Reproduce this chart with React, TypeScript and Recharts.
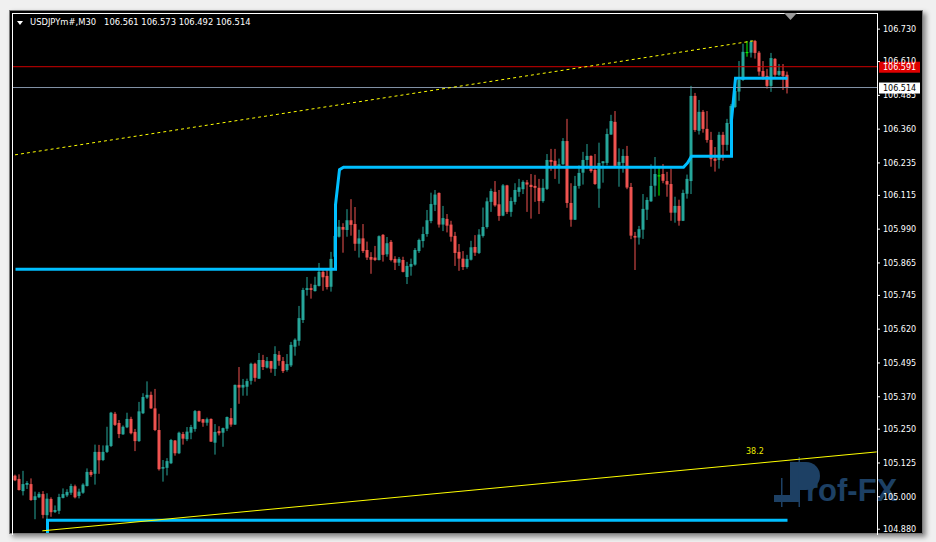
import React from "react";
import { ComposedChart, Bar, Line, XAxis, YAxis, ReferenceLine } from "recharts";

// USDJPYm#, M30 - bars (index 0 = leftmost bar)
const opens = [
  105.078, 105.066, 105.021, 105.044, 105.047, 104.988, 104.998, 105.010, 104.932, 104.992,
  104.944, 104.948, 104.996, 105.005, 105.015, 105.039, 105.003, 105.015, 105.040, 105.092,
  105.085, 105.166, 105.136, 105.166, 105.188, 105.307, 105.273, 105.231, 105.257, 105.288,
  105.240, 105.206, 105.309, 105.367, 105.377, 105.327, 105.247, 105.104, 105.107, 105.124,
  105.208, 105.161, 105.232, 105.213, 105.237, 105.251, 105.317, 105.287, 105.274, 105.288,
  105.200, 105.243, 105.237, 105.252, 105.291, 105.267, 105.414, 105.404, 105.407, 105.429,
  105.492, 105.437, 105.506, 105.478, 105.502, 105.473, 105.525, 105.502, 105.469, 105.486,
  105.555, 105.577, 105.654, 105.765, 105.772, 105.761, 105.780, 105.832, 105.817, 105.777,
  105.888, 105.962, 105.998, 105.987, 106.023, 106.009, 105.936, 105.956, 105.913, 105.887,
  105.885, 105.876, 105.969, 105.897, 105.943, 105.880, 105.866, 105.876, 105.813, 105.851,
  105.859, 105.909, 105.946, 105.972, 106.020, 106.080, 106.124, 106.007, 106.028, 106.007,
  105.965, 105.906, 105.881, 105.850, 105.877, 105.924, 105.902, 105.965, 105.998, 106.091,
  106.128, 106.082, 106.040, 106.152, 106.054, 106.091, 106.128, 106.138, 106.163, 106.154,
  106.150, 106.143, 106.094, 106.139, 106.246, 106.243, 106.216, 106.230, 106.316, 106.087,
  106.025, 106.150, 106.199, 106.246, 106.261, 106.209, 106.140, 106.234, 106.235, 106.340,
  106.387, 106.225, 106.235, 106.261, 106.146, 105.965, 105.959, 105.988, 106.062, 106.093,
  106.151, 106.189, 106.194, 106.168, 106.157, 106.051, 106.076, 106.021, 106.121, 106.168,
  106.483, 106.354, 106.424, 106.361, 106.320, 106.251, 106.246, 106.339, 106.302, 106.379,
  106.442, 106.499, 106.542, 106.645, 106.643, 106.686, 106.643, 106.575, 106.557, 106.520,
  106.620, 106.561, 106.575, 106.561,
];

const highs = [
  105.082, 105.083, 105.096, 105.058, 105.068, 105.019, 105.018, 105.021, 105.013, 104.998,
  104.968, 105.011, 105.031, 105.028, 105.048, 105.045, 105.030, 105.050, 105.105, 105.099,
  105.193, 105.192, 105.190, 105.259, 105.314, 105.314, 105.284, 105.264, 105.311, 105.296,
  105.251, 105.351, 105.383, 105.427, 105.389, 105.399, 105.307, 105.136, 105.143, 105.214,
  105.210, 105.241, 105.240, 105.258, 105.266, 105.321, 105.319, 105.288, 105.293, 105.290,
  105.269, 105.261, 105.256, 105.297, 105.328, 105.415, 105.480, 105.436, 105.437, 105.496,
  105.496, 105.532, 105.525, 105.517, 105.503, 105.557, 105.539, 105.517, 105.528, 105.573,
  105.586, 105.706, 105.773, 105.813, 105.788, 105.814, 105.865, 105.845, 105.844, 105.906,
  105.987, 106.024, 106.012, 106.064, 106.101, 106.072, 105.988, 106.009, 105.944, 105.905,
  105.928, 105.967, 105.972, 105.961, 105.950, 105.890, 105.887, 105.888, 105.869, 105.881,
  105.920, 105.955, 105.999, 106.061, 106.125, 106.135, 106.126, 106.076, 106.046, 106.021,
  105.980, 105.935, 105.909, 105.895, 105.947, 105.968, 105.990, 106.070, 106.107, 106.140,
  106.168, 106.135, 106.157, 106.154, 106.108, 106.160, 106.176, 106.171, 106.172, 106.194,
  106.191, 106.176, 106.176, 106.268, 106.287, 106.287, 106.251, 106.327, 106.398, 106.160,
  106.187, 106.226, 106.276, 106.305, 106.263, 106.268, 106.310, 106.242, 106.362, 106.413,
  106.427, 106.289, 106.286, 106.298, 106.161, 105.980, 106.002, 106.120, 106.108, 106.230,
  106.257, 106.217, 106.231, 106.202, 106.214, 106.110, 106.099, 106.136, 106.192, 106.520,
  106.494, 106.468, 106.431, 106.427, 106.350, 106.294, 106.350, 106.350, 106.398, 106.453,
  106.512, 106.612, 106.676, 106.686, 106.690, 106.690, 106.649, 106.612, 106.583, 106.642,
  106.623, 106.601, 106.601, 106.573,
];

const lows = [
  105.058, 105.023, 105.005, 105.029, 104.985, 104.917, 104.995, 104.920, 104.917, 104.926,
  104.940, 104.936, 104.994, 104.999, 105.007, 104.994, 104.994, 105.011, 105.038, 105.074,
  105.045, 105.085, 105.132, 105.162, 105.184, 105.262, 105.217, 105.229, 105.254, 105.231,
  105.169, 105.203, 105.306, 105.362, 105.325, 105.243, 105.097, 105.056, 105.079, 105.121,
  105.152, 105.158, 105.193, 105.206, 105.213, 105.241, 105.277, 105.259, 105.263, 105.203,
  105.156, 105.227, 105.185, 105.243, 105.259, 105.266, 105.344, 105.374, 105.374, 105.415,
  105.426, 105.436, 105.469, 105.475, 105.459, 105.447, 105.485, 105.458, 105.463, 105.480,
  105.522, 105.559, 105.643, 105.744, 105.733, 105.759, 105.778, 105.762, 105.767, 105.759,
  105.885, 105.959, 105.903, 105.962, 105.966, 105.910, 105.885, 105.902, 105.876, 105.825,
  105.872, 105.874, 105.870, 105.888, 105.871, 105.839, 105.854, 105.830, 105.787, 105.818,
  105.855, 105.902, 105.922, 105.962, 106.012, 106.057, 105.996, 105.983, 105.978, 105.944,
  105.854, 105.836, 105.839, 105.844, 105.874, 105.891, 105.898, 105.959, 105.992, 106.054,
  106.073, 106.021, 106.038, 106.046, 106.036, 106.081, 106.110, 106.120, 106.054, 106.029,
  106.091, 106.046, 106.088, 106.135, 106.206, 106.176, 106.158, 106.228, 106.069, 105.999,
  106.024, 106.140, 106.155, 106.212, 106.199, 106.154, 106.069, 106.162, 106.226, 106.339,
  106.222, 106.147, 106.199, 106.138, 105.953, 105.839, 105.933, 105.954, 106.024, 106.091,
  106.110, 106.114, 106.160, 106.110, 106.021, 106.014, 106.003, 106.020, 106.103, 106.120,
  106.350, 106.340, 106.347, 106.310, 106.221, 106.203, 106.214, 106.243, 106.280, 106.376,
  106.438, 106.465, 106.538, 106.628, 106.625, 106.621, 106.558, 106.543, 106.510, 106.498,
  106.554, 106.557, 106.505, 106.492,
];

const closes = [
  105.061, 105.025, 105.047, 105.051, 104.988, 105.002, 105.011, 104.933, 104.993, 104.943,
  104.951, 104.999, 105.010, 105.018, 105.040, 104.998, 105.019, 105.045, 105.092, 105.081,
  105.166, 105.135, 105.166, 105.190, 105.311, 105.266, 105.232, 105.259, 105.288, 105.235,
  105.206, 105.316, 105.369, 105.377, 105.327, 105.247, 105.102, 105.110, 105.132, 105.210,
  105.161, 105.237, 105.215, 105.241, 105.258, 105.317, 105.279, 105.274, 105.287, 105.204,
  105.240, 105.235, 105.254, 105.295, 105.267, 105.414, 105.404, 105.414, 105.428, 105.492,
  105.440, 105.506, 105.480, 105.502, 105.474, 105.528, 105.503, 105.465, 105.491, 105.562,
  105.581, 105.661, 105.765, 105.772, 105.765, 105.784, 105.832, 105.812, 105.776, 105.880,
  105.965, 105.999, 105.988, 106.023, 106.006, 105.936, 105.956, 105.909, 105.885, 105.877,
  105.876, 105.964, 105.895, 105.938, 105.876, 105.866, 105.880, 105.832, 105.854, 105.861,
  105.913, 105.950, 105.972, 106.023, 106.083, 106.118, 106.007, 106.031, 106.003, 105.962,
  105.902, 105.881, 105.850, 105.880, 105.923, 105.903, 105.970, 105.998, 106.093, 106.131,
  106.078, 106.039, 106.152, 106.054, 106.094, 106.135, 106.145, 106.165, 106.155, 106.146,
  106.143, 106.094, 106.143, 106.246, 106.239, 106.217, 106.230, 106.316, 106.087, 106.025,
  106.150, 106.198, 106.246, 106.261, 106.205, 106.157, 106.235, 106.241, 106.342, 106.390,
  106.224, 106.239, 106.261, 106.144, 105.966, 105.959, 105.990, 106.065, 106.098, 106.150,
  106.194, 106.189, 106.169, 106.155, 106.051, 106.076, 106.021, 106.124, 106.176, 106.483,
  106.357, 106.424, 106.361, 106.320, 106.249, 106.243, 106.339, 106.302, 106.383, 106.446,
  106.501, 106.542, 106.646, 106.645, 106.683, 106.642, 106.573, 106.554, 106.520, 106.623,
  106.561, 106.575, 106.557, 106.514,
];

// price scale labels as printed by the terminal
const yTicks = [
  106.73, 106.61, 106.485, 106.36, 106.235, 106.115, 105.99, 105.865,
  105.745, 105.62, 105.495, 105.37, 105.25, 105.125, 105.0, 104.88,
];

// blue level indicator: bar index -> price
const levelIdx = [0, 80, 80, 81, 82, 167, 168, 169, 179, 179, 180, 193];
const levelVal = [105.842, 105.842, 106.08, 106.21, 106.219, 106.219, 106.235, 106.26, 106.26, 106.394, 106.548, 106.548];

// lower blue level
const lowLevelIdx = [8, 8, 193];
const lowLevelVal = [104.866, 104.913, 104.913];

// dotted yellow trendline and the 38.2 fibo line (bar index, price)
const trendIdx = [-0.125, 185.1];
const trendVal = [106.265, 106.688];
const fiboIdx = [6.7, 215.3];
const fiboVal = [104.874, 105.166];

const askPrice = 106.591;
const bidPrice = 106.514;

const candles = opens.map((o, i) => ({
  i,
  o,
  h: highs[i],
  l: lows[i],
  c: closes[i],
  range: [lows[i], highs[i]],
}));
const levelData = levelIdx.map((i, k) => ({ i, v: levelVal[k] }));
const lowLevelData = lowLevelIdx.map((i, k) => ({ i, v: lowLevelVal[k] }));

const UP = "#26A69A";
const DOWN = "#EF5350";
const DOJI = "#00FF00";
const FONT = "DejaVu Sans";

const Candle = (props: any) => {
  const { x, y, width, height, payload } = props;
  if (!payload || x == null) return null;
  const { o, h, l, c } = payload;
  const top = height >= 0 ? y : y + height;
  const hh = Math.abs(height);
  const cx = x + width / 2;
  const span = h - l;
  const py = (p: number) => (span > 0 ? top + ((h - p) / span) * hh : top);
  const color = c === o ? DOJI : c > o ? UP : DOWN;
  const bTop = py(Math.max(o, c));
  const bBot = py(Math.min(o, c));
  return (
    <g>
      <rect x={cx - 0.5} y={top} width={1} height={Math.max(hh, 1)} fill={color} />
      <rect x={cx - 1.5} y={bTop} width={3} height={Math.max(bBot - bTop, 1)} fill={color} />
    </g>
  );
};

const PriceTag = (props: any) => {
  const { viewBox, text, bg, fg } = props;
  if (!viewBox) return null;
  const x = viewBox.x + viewBox.width + 2;
  const y = viewBox.y;
  return (
    <g>
      <rect x={x} y={y - 5} width={41} height={11} fill={bg} />
      <text x={x + 4} y={y + 3.5} fill={fg} fontSize={8} fontFamily={FONT}>
        {text}
      </text>
    </g>
  );
};

const App: React.FC = () => {
  return (
    <div
      style={{
        position: "absolute",
        left: 0,
        top: 0,
        width: 936,
        height: 542,
        background: "#F0F0F0",
        overflow: "hidden",
        fontFamily: FONT,
      }}
    >
      {/* chart window */}
      <div
        style={{
          position: "absolute",
          left: 9,
          top: 10,
          width: 914,
          height: 524,
          background: "#000",
          border: "1px solid #7A7A7A",
          boxSizing: "border-box",
          boxShadow: "3px 3px 5px rgba(0,0,0,0.45)",
        }}
      />

      {/* watermark */}
      <svg width={936} height={542} style={{ position: "absolute", left: 0, top: 0 }}>
        <g fill="#1D4064">
          <rect x={774} y={495} width={16} height={7} />
          <rect x={781} y={478} width={1.5} height={29} />
          <rect x={790} y={462} width={10} height={40} />
          <rect x={798.5} y={457} width={1.5} height={50} />
          <path d="M800 462 H806 A14 14 0 0 1 806 490 H800 Z" />
          <text x={806} y={501} fontSize={31} fontWeight="bold" fontFamily="Liberation Sans">
            rof-FX
          </text>
        </g>
      </svg>

      <div style={{ position: "absolute", left: 0, top: 0 }}>
        <ComposedChart
          width={936}
          height={542}
          data={candles}
          margin={{ top: 14, right: 0, bottom: 9, left: 13 }}
        >
          <XAxis type="number" dataKey="i" domain={[-0.625, 215.375]} allowDataOverflow hide />
          <YAxis
            orientation="right"
            width={59}
            domain={[104.866, 106.786]}
            allowDataOverflow
            ticks={yTicks}
            interval={0}
            axisLine={false}
            tickLine={{ stroke: "#FFFFFF" }}
            tickSize={3}
            tickMargin={3}
            tick={{ fill: "#FFFFFF", fontSize: 8, fontFamily: FONT }}
            tickFormatter={(v: number) => v.toFixed(3)}
          />
          <ReferenceLine y={askPrice} stroke="#D00000" ifOverflow="visible" />
          <ReferenceLine y={bidPrice} stroke="#8494A8" ifOverflow="visible" />
          <Bar
            dataKey="range"
            barSize={3}
            isAnimationActive={false}
            shape={(p: any) => <Candle {...p} />}
          />
          <Line
            data={levelData}
            dataKey="v"
            type="linear"
            stroke="#00BFFF"
            strokeWidth={3}
            dot={false}
            isAnimationActive={false}
          />
          <Line
            data={lowLevelData}
            dataKey="v"
            type="linear"
            stroke="#00BFFF"
            strokeWidth={3}
            dot={false}
            isAnimationActive={false}
          />
          <ReferenceLine
            segment={[
              { x: trendIdx[0], y: trendVal[0] },
              { x: trendIdx[1], y: trendVal[1] },
            ]}
            stroke="#FFFF00"
            strokeDasharray="3 3"
            ifOverflow="visible"
          />
          <ReferenceLine
            segment={[
              { x: fiboIdx[0], y: fiboVal[0] },
              { x: fiboIdx[1], y: fiboVal[1] },
            ]}
            stroke="#FFFF00"
            ifOverflow="visible"
          />
          <ReferenceLine
            y={askPrice}
            stroke="none"
            ifOverflow="visible"
            label={<PriceTag text={askPrice.toFixed(3)} bg="#E00000" fg="#FFFFFF" />}
          />
          <ReferenceLine
            y={bidPrice}
            stroke="none"
            ifOverflow="visible"
            label={<PriceTag text={bidPrice.toFixed(3)} bg="#FFFFFF" fg="#000000" />}
          />
        </ComposedChart>
      </div>

      {/* plot frame */}
      <div
        style={{
          position: "absolute",
          left: 12,
          top: 13,
          width: 866,
          height: 522,
          borderLeft: "1px solid #FFFFFF",
          borderTop: "1px solid #FFFFFF",
          borderRight: "1px solid #FFFFFF",
          boxSizing: "border-box",
          pointerEvents: "none",
        }}
      />

      {/* title */}
      <div
        style={{
          position: "absolute",
          left: 17,
          top: 21,
          width: 0,
          height: 0,
          borderLeft: "3px solid transparent",
          borderRight: "3px solid transparent",
          borderTop: "4px solid #FFFFFF",
        }}
      />
      <div
        style={{
          position: "absolute",
          left: 30,
          top: 17,
          color: "#FFFFFF",
          fontSize: 8.4,
          lineHeight: "10px",
          whiteSpace: "pre",
        }}
      >
        {"USDJPYm#,M30   106.561 106.573 106.492 106.514"}
      </div>

      {/* fibo level label */}
      <div
        style={{
          position: "absolute",
          left: 746,
          top: 447,
          color: "#E8E800",
          fontSize: 8,
          lineHeight: "10px",
        }}
      >
        38.2
      </div>

      {/* chart shift marker */}
      <svg width={936} height={542} style={{ position: "absolute", left: 0, top: 0, pointerEvents: "none" }}>
        <polygon points="784,13 797,13 790.5,20" fill="#9A9A9A" />
      </svg>
    </div>
  );
};

export default App;
